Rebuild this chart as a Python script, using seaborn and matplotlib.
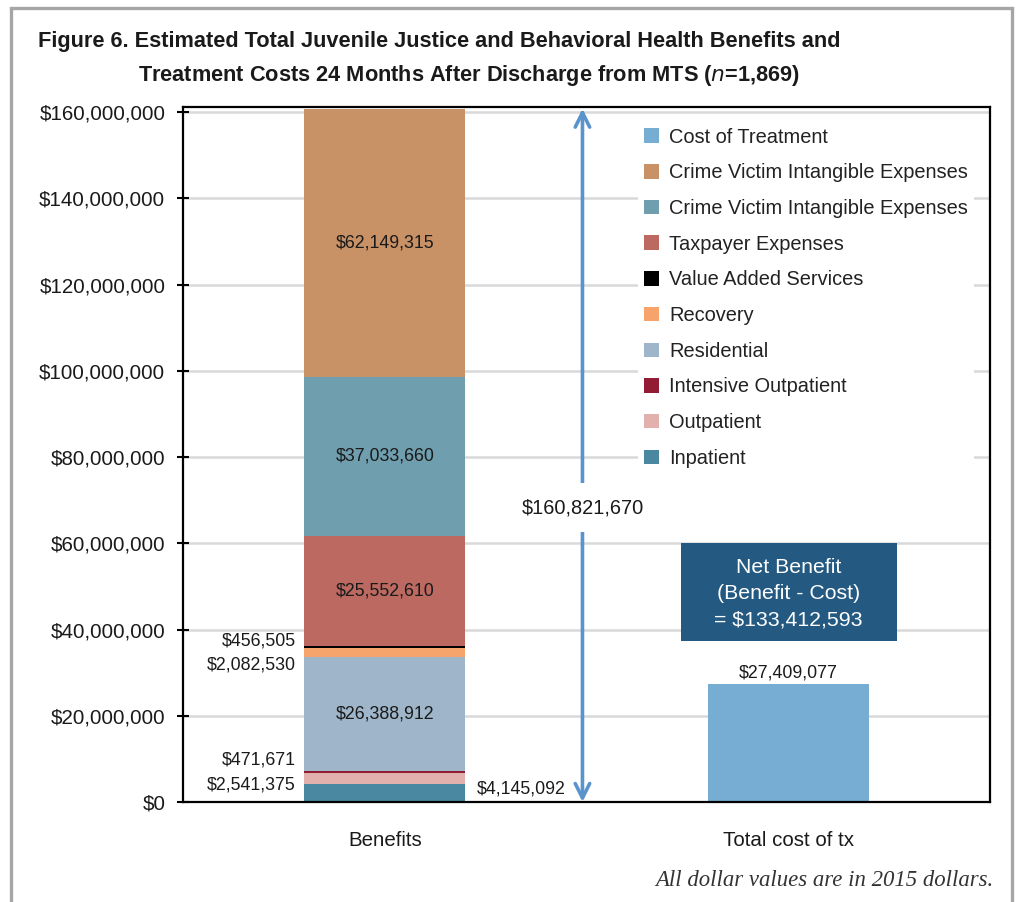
import matplotlib
matplotlib.use("Agg")
import matplotlib.pyplot as plt
from matplotlib.patches import Patch, Rectangle
import seaborn as sns
import pandas as pd
import numpy as np

# ---------------- data ----------------
categories = ["Benefits", "Total cost of tx"]
segment_names = ["Inpatient", "Outpatient", "Intensive Outpatient", "Residential",
                 "Recovery", "Value Added Services", "Taxpayer Expenses",
                 "Crime Victim Intangible Expenses", "Crime Victim Intangible Expenses"]
segment_values = [4145092, 2541375, 471671, 26388912, 2082530, 456505,
                  25552610, 37033660, 62149315]
segment_colors = ["#4a88a1", "#e2b1ae", "#931c35", "#9fb5c9", "#f6a46c", "#000000",
                  "#bb6961", "#6f9eae", "#c99166"]
cost_name = "Cost of Treatment"
cost_value = 27409077
cost_color = "#77acd3"
net_benefit = 133412593
y_ticks = [0, 20e6, 40e6, 60e6, 80e6, 100e6, 120e6, 140e6, 160e6]

# ---------------- style ----------------
sns.set_theme(style="white")
plt.rcParams["font.family"] = ["Liberation Sans", "DejaVu Sans"]

fs = 14.8      # axis text
lfs = 14.4     # legend text
dfs = 12.8     # data labels
tc = "#1a1a1a"

fig = plt.figure(figsize=(10.16, 9.02), dpi=100)
ax = fig.add_axes([183 / 1016, 1 - 802 / 902, (990 - 183) / 1016, (802 - 107) / 902])

order = categories
bar_w = 0.4

# stacked benefits bar: cumulative totals drawn from the top segment down
cum = np.cumsum(segment_values)
for i in range(len(segment_values) - 1, -1, -1):
    df = pd.DataFrame({"cat": [categories[0]], "val": [cum[i]]})
    sns.barplot(data=df, x="cat", y="val", order=order, color=segment_colors[i],
                width=bar_w, saturation=1, ax=ax, zorder=2, linewidth=0)

df_cost = pd.DataFrame({"cat": [categories[1]], "val": [cost_value]})
sns.barplot(data=df_cost, x="cat", y="val", order=order, color=cost_color,
            width=bar_w, saturation=1, ax=ax, zorder=2, linewidth=0)

total = cum[-1]
ax.set_xlim(-0.5, 1.5)
ax.set_ylim(0, 161.2e6)
ax.set_yticks(y_ticks)
ax.set_yticklabels(["${:,.0f}".format(v) for v in y_ticks], fontsize=fs, color=tc)
ax.set_xlabel("")
ax.set_ylabel("")
ax.tick_params(axis="x", length=0, pad=21, labelsize=fs, labelcolor=tc)
ax.tick_params(axis="y", direction="inout", length=8, width=1.5, color="black", pad=8.7, left=True)
ax.yaxis.grid(True, color="#d9d9d9", lw=1.8)
ax.xaxis.grid(False)
ax.set_axisbelow(True)
for s in ax.spines.values():
    s.set_visible(True)
    s.set_color("black")
    s.set_linewidth(1.6)

# labels inside big segments
for i in [3, 6, 7, 8]:
    mid = cum[i] - segment_values[i] / 2
    ax.text(0, mid, "${:,.0f}".format(segment_values[i]), ha="center", va="center",
            fontsize=dfs, color=tc, zorder=5)

# side labels for small segments
ax.text(-0.22, 37.3e6, "${:,.0f}".format(segment_values[5]), ha="right", va="center", fontsize=dfs, color=tc)
ax.text(-0.22, 31.8e6, "${:,.0f}".format(segment_values[4]), ha="right", va="center", fontsize=dfs, color=tc)
ax.text(-0.22, 9.7e6, "${:,.0f}".format(segment_values[2]), ha="right", va="center", fontsize=dfs, color=tc)
ax.text(-0.22, 3.9e6, "${:,.0f}".format(segment_values[1]), ha="right", va="center", fontsize=dfs, color=tc)
ax.text(0.229, 3.0e6, "${:,.0f}".format(segment_values[0]), ha="left", va="center", fontsize=dfs, color=tc)

# cost label
ax.text(1.0, cost_value + 2.5e6, "${:,.0f}".format(cost_value), ha="center", va="center",
        fontsize=dfs, color=tc)

# total arrow
ax.annotate("", xy=(0.49, 0), xytext=(0.49, total),
            arrowprops=dict(arrowstyle="<->", color="#5b93cc", lw=2.6, mutation_scale=26,
                            shrinkA=0, shrinkB=0), zorder=3)
ax.text(0.49, 68.2e6, "${:,.0f}".format(total), ha="center", va="center", fontsize=14.4,
        color=tc, zorder=6,
        bbox=dict(boxstyle="square,pad=0.75", fc="white", ec="none"))

# net benefit box
ax.add_patch(Rectangle((0.734, 37.3e6), 1.27 - 0.734, 60.0e6 - 37.3e6, fc="#245a82",
                       ec="none", zorder=4))
ax.text(1.0, 48.3e6, "Net Benefit\n(Benefit - Cost)\n= ${:,.0f}".format(net_benefit),
        ha="center", va="center", fontsize=15.3, color="white", zorder=5, linespacing=1.5)

# legend
handles = [Patch(fc=cost_color, ec="none", label=cost_name)]
for i in range(len(segment_values) - 1, -1, -1):
    handles.append(Patch(fc=segment_colors[i], ec="none", label=segment_names[i]))
leg = ax.legend(handles=handles, loc="upper right", bbox_to_anchor=(0.980, 0.979),
                fontsize=lfs, frameon=True, fancybox=False, framealpha=1, facecolor="white",
                edgecolor="none", handlelength=0.74, handleheight=0.74, handletextpad=0.5,
                labelspacing=0.835, borderpad=0.3, borderaxespad=0)
leg.set_zorder(6)
for t in leg.get_texts():
    t.set_color("#222222")

# title
tfs = 15.7
fig.text(38 / 1016, 1 - 42 / 902,
         "Figure 6. Estimated Total Juvenile Justice and Behavioral Health Benefits and",
         ha="left", va="center", fontsize=tfs, fontweight="bold", color=tc)
fig.text(138 / 1016, 1 - 75 / 902,
         "Treatment Costs 24 Months After Discharge from MTS ($\\mathit{n}$=1,869)",
         ha="left", va="center", fontsize=tfs, fontweight="bold", color=tc)

# footnote
fig.text(993 / 1016, 1 - 880 / 902, "All dollar values are in 2015 dollars.",
         ha="right", va="center", fontsize=16.4, fontstyle="italic",
         family=["Liberation Serif", "DejaVu Serif"], color="#333333")

# outer border
fig.patches.append(Rectangle((11 / 1016, -0.02), (1012 - 11) / 1016, 1.02 - 8 / 902,
                             transform=fig.transFigure, fill=False, ec="#a6a6a6", lw=2.4))

fig.savefig("out.png", dpi=100)
